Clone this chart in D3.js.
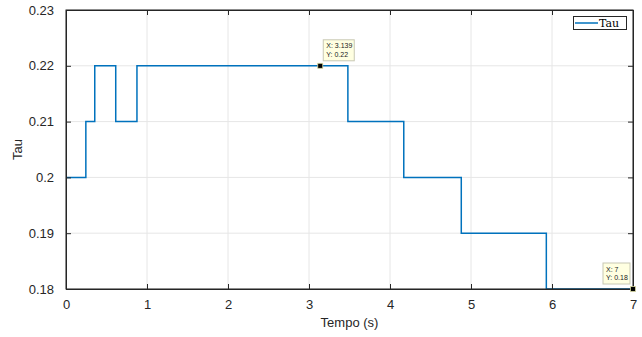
<!DOCTYPE html>
<html>
<head>
<meta charset="utf-8">
<script src="https://cdn.jsdelivr.net/npm/d3@7"></script>
<style>
  body { margin: 0; background: #fff; }
  svg { display: block; }
  text { font-family: "Liberation Sans", Arial, sans-serif; }
</style>
</head>
<body>
<svg width="642" height="337"></svg>
<script>
// step signal: time where each level starts, and the level
var stepTimes = [0, 0.245, 0.355, 0.614, 0.876, 3.48, 4.17, 4.88, 5.93, 7];
var tauValues = [0.20, 0.21, 0.22, 0.21, 0.22, 0.21, 0.20, 0.19, 0.18, 0.18];
var xTicks = [0, 1, 2, 3, 4, 5, 6, 7];
var yTicks = [0.18, 0.19, 0.2, 0.21, 0.22, 0.23];
var tips = [[3.139, 0.22, "X: 3.139", "Y: 0.22"], [7, 0.18, "X: 7", "Y: 0.18"]];

var svg = d3.select("svg");
var pL = 66, pR = 633, pT = 10, pB = 289;

var x = d3.scaleLinear().domain([0, 7]).range([pL, pR]);
var y = d3.scaleLinear().domain([0.18, 0.23]).range([pB, pT]);

// grid
var grid = svg.append("g").attr("stroke", "#e6e6e6").attr("stroke-width", 1);
grid.selectAll(".gx").data(xTicks).enter().append("line")
    .attr("x1", function(d) { return x(d); }).attr("x2", function(d) { return x(d); })
    .attr("y1", pT).attr("y2", pB);
grid.selectAll(".gy").data(yTicks).enter().append("line")
    .attr("y1", function(d) { return y(d); }).attr("y2", function(d) { return y(d); })
    .attr("x1", pL).attr("x2", pR);

// line
var pts = stepTimes.map(function(t, i) { return [t, tauValues[i]]; });
var line = d3.line().curve(d3.curveStepAfter)
    .x(function(d) { return x(d[0]); })
    .y(function(d) { return y(d[1]); });
svg.append("path").datum(pts)
    .attr("d", line)
    .attr("fill", "none")
    .attr("stroke", "#0072bd")
    .attr("stroke-width", 1.5);

// axes, box style with ticks inside
svg.append("rect").attr("x", pL).attr("y", pT).attr("width", pR - pL).attr("height", pB - pT)
    .attr("fill", "none").attr("stroke", "#262626").attr("stroke-width", 1);

var fmt = function(d) { return String(+d.toFixed(2)); };
var xb = svg.append("g").attr("transform", "translate(0," + pB + ")")
    .call(d3.axisBottom(x).tickValues(xTicks).tickSizeInner(-5).tickSizeOuter(0).tickPadding(11).tickFormat(fmt));
var xt = svg.append("g").attr("transform", "translate(0," + pT + ")")
    .call(d3.axisTop(x).tickValues(xTicks).tickSizeInner(-5).tickSizeOuter(0).tickFormat(""));
var yl = svg.append("g").attr("transform", "translate(" + pL + ",0)")
    .call(d3.axisLeft(y).tickValues(yTicks).tickSizeInner(-5).tickSizeOuter(0).tickPadding(12).tickFormat(fmt));
var yr = svg.append("g").attr("transform", "translate(" + pR + ",0)")
    .call(d3.axisRight(y).tickValues(yTicks).tickSizeInner(-5).tickSizeOuter(0).tickFormat(""));

[xb, xt, yl, yr].forEach(function(g) {
    g.select(".domain").attr("stroke", "#262626");
    g.selectAll(".tick line").attr("stroke", "#262626");
    g.selectAll("text").attr("fill", "#262626").style("font-size", "13px")
        .style("font-family", "'Liberation Sans', Arial, sans-serif");
});

svg.append("text").attr("x", x(3.5)).attr("y", 327).attr("text-anchor", "middle")
    .attr("fill", "#262626").style("font-size", "13px").text("Tempo (s)");
svg.append("text").attr("transform", "translate(22," + ((pT + pB) / 2) + ") rotate(-90)")
    .attr("text-anchor", "middle").attr("fill", "#262626").style("font-size", "13px").text("Tau");

// datatips
tips.forEach(function(t) {
    var px = x(t[0]), py = y(t[1]);
    var w = t[2].length > 5 ? 31 : 27, h = 21;
    var bx = px + 3, by = py - 26;
    if (bx + w > 640) bx = px - w - 3;
    svg.append("rect").attr("x", bx).attr("y", by).attr("width", w).attr("height", h)
        .attr("fill", "#ffffe1").attr("stroke", "#c8c8b4").attr("stroke-width", 1);
    svg.append("text").attr("x", bx + 3).attr("y", by + 8.5).attr("fill", "#222")
        .style("font-size", "7px").text(t[2]);
    svg.append("text").attr("x", bx + 3).attr("y", by + 17).attr("fill", "#222")
        .style("font-size", "7px").text(t[3]);
    svg.append("rect").attr("x", px - 2.5).attr("y", py - 2.5).attr("width", 5).attr("height", 5)
        .attr("fill", "#000").attr("stroke", "#d8d8a0").attr("stroke-width", 0.8);
});

// legend
var lg = svg.append("g");
lg.append("rect").attr("x", 573.5).attr("y", 16.5).attr("width", 53).attr("height", 13)
    .attr("fill", "#fff").attr("stroke", "#262626").attr("stroke-width", 1);
lg.append("line").attr("x1", 575).attr("x2", 598).attr("y1", 23).attr("y2", 23)
    .attr("stroke", "#0072bd").attr("stroke-width", 1.5);
lg.append("text").attr("x", 599).attr("y", 27).attr("fill", "#000")
    .style("font-family", "'DejaVu Serif', serif").style("font-size", "11px").text("Tau");
</script>
</body>
</html>
